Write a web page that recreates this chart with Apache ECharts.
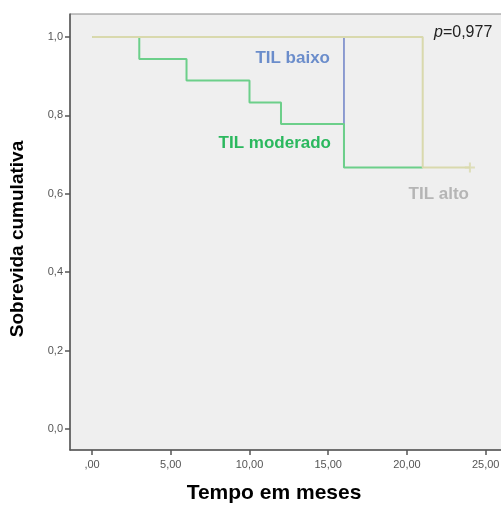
<!DOCTYPE html>
<html><head><meta charset="utf-8">
<script src="https://cdn.jsdelivr.net/npm/echarts@6/dist/echarts.min.js"></script>
<style>html,body{margin:0;padding:0;background:#fff}#c{width:501px;height:505px}</style>
</head><body><div id="c"></div>
<script>
// Data
const xTicks = [0, 5, 10, 15, 20, 25];
const xTickLabels = [',00', '5,00', '10,00', '15,00', '20,00', '25,00'];
const yTicks = [0, 0.2, 0.4, 0.6, 0.8, 1.0];
const yTickLabels = ['0,0', '0,2', '0,4', '0,6', '0,8', '1,0'];

const baixoTime = [0, 16];
const baixoSurv = [1, 0.667];
const moderadoTime = [0, 3, 6, 10, 12, 16, 21];
const moderadoSurv = [1, 0.944, 0.889, 0.833, 0.778, 0.667, 0.667];
const altoTime = [0, 21, 24];
const altoSurv = [1, 0.667, 0.667];
const altoCensorTime = [24];
const altoCensorSurv = [0.667];

const pValue = '0,977';
const xTitle = 'Tempo em meses';
const yTitle = 'Sobrevida cumulativa';

const zip = (a, b) => a.map((v, i) => [v, b[i]]);

const chart = echarts.init(document.getElementById('c'), null, {renderer: 'canvas'});
const font = 'Liberation Sans, Arial, sans-serif';
chart.setOption({
  animation: false,
  backgroundColor: '#fff',
  grid: {left: 70, top: 14, right: -2, bottom: 55, outerBoundsMode: 'none', containLabel: false,
         show: true, backgroundColor: '#efefef', borderColor: '#8a8a8a', borderWidth: 1},
  xAxis: {
    type: 'value', min: -1.4, max: 26.1,
    axisLine: {show: true, onZero: false, lineStyle: {color: '#555', width: 1.5}},
    axisTick: {show: true, customValues: xTicks, length: 5, lineStyle: {color: '#555', width: 1.5}},
    axisLabel: {customValues: xTicks, formatter: v => xTickLabels[xTicks.indexOf(Math.round(v))], color: '#555', fontSize: 11, fontFamily: font, margin: 9},
    splitLine: {show: false}
  },
  yAxis: {
    type: 'value', min: -0.054, max: 1.0587,
    axisLine: {show: true, onZero: false, lineStyle: {color: '#555', width: 1.5}},
    axisTick: {show: true, customValues: yTicks, length: 5, lineStyle: {color: '#555', width: 1.5}},
    axisLabel: {customValues: yTicks, formatter: v => yTickLabels[yTicks.findIndex(t => Math.abs(t - v) < 1e-6)], color: '#555', fontSize: 11, fontFamily: font, margin: 7},
    splitLine: {show: false}
  },
  series: [
    {type: 'line', step: 'end', data: zip(baixoTime, baixoSurv), symbol: 'none', lineStyle: {color: '#6d80c6', width: 1.5}, z: 2},
    {type: 'line', step: 'end', data: zip(moderadoTime, moderadoSurv), symbol: 'none', lineStyle: {color: '#6ccf8a', width: 2}, z: 3},
    {type: 'line', step: 'end', data: zip(altoTime, altoSurv), symbol: 'none', lineStyle: {color: '#d9d9ad', width: 2}, z: 4},
    {type: 'scatter', data: zip(altoCensorTime, altoCensorSurv), symbol: 'path://M0,5L10,5M5,0L5,10', symbolSize: 10,
     itemStyle: {color: 'none', borderColor: '#d9d9ad', borderWidth: 2}, z: 4}
  ],
  graphic: [
    {type: 'text', style: {x: 330, y: 58, align: 'right', verticalAlign: 'middle', text: 'TIL baixo', font: 'bold 17px ' + font, fill: '#6b8dcb'}},
    {type: 'text', style: {x: 331, y: 143, align: 'right', verticalAlign: 'middle', text: 'TIL moderado', font: 'bold 17px ' + font, fill: '#2bb85e'}},
    {type: 'text', style: {x: 469, y: 194, align: 'right', verticalAlign: 'middle', text: 'TIL alto', font: 'bold 17px ' + font, fill: '#b5b5b5'}},
    {type: 'text', style: {
      x: 434, y: 33, verticalAlign: 'middle',
      text: '{i|p}{n|=' + pValue + '}',
      rich: {i: {font: 'italic 16px ' + font, fill: '#222'}, n: {font: '16px ' + font, fill: '#222'}}
    }},
    {type: 'text', style: {x: 274, y: 493, align: 'center', verticalAlign: 'middle', text: xTitle, font: 'bold 21px ' + font, fill: '#000'}},
    {type: 'text', x: 18, y: 239, rotation: Math.PI / 2, style: {x: 0, y: 0, align: 'center', verticalAlign: 'middle', text: yTitle, font: 'bold 19px ' + font, fill: '#000'}}
  ]
});
</script></body></html>
